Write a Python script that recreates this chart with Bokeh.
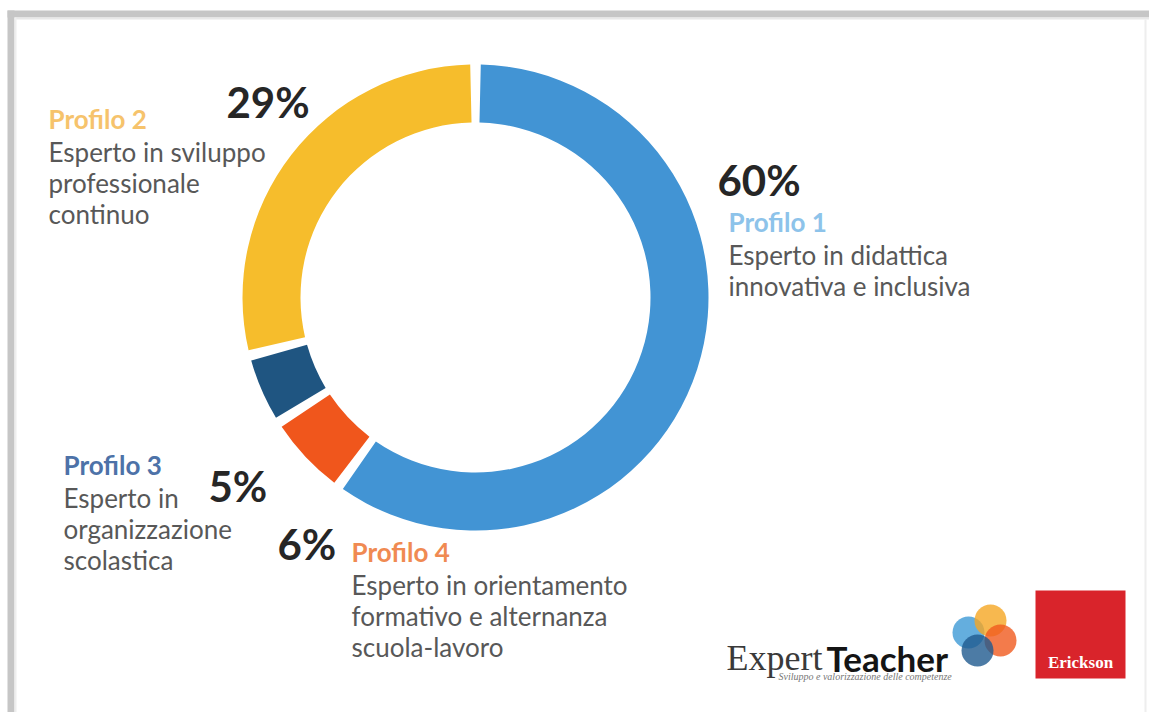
import numpy as np
from bokeh.plotting import figure
from bokeh.models import Range1d, ColumnDataSource
from bokeh.core.properties import value
from bokeh.embed import file_html
from bokeh.resources import INLINE

# ---------------- data ----------------
profiles = ["Profilo 1", "Profilo 4", "Profilo 3", "Profilo 2"]
shares = [60, 6, 5, 29]
share_labels = ["60%", "6%", "5%", "29%"]
colors = ["#4294d4", "#f0561c", "#1f5581", "#f6bd2c"]
head_colors = ["#8dc3ea", "#f08a52", "#4d72a8", "#f6c36c"]
descriptions = [
    ["Esperto in didattica", "innovativa e inclusiva"],
    ["Esperto in orientamento", "formativo e alternanza", "scuola-lavoro"],
    ["Esperto in", "organizzazione", "scolastica"],
    ["Esperto in sviluppo", "professionale", "continuo"],
]

W, H = 1149, 712
PX_H = 712


def Y(py):
    return PX_H - py


p = figure(width=W, height=H, output_backend="svg", toolbar_location=None,
           x_range=Range1d(0, W), y_range=Range1d(PX_H - H, PX_H),
           min_border=0, outline_line_color=None, background_fill_color="white",
           border_fill_color="white")
p.axis.visible = False
p.grid.visible = False

# frame border (grey bars top/left)
p.quad(left=[7], right=[1149], bottom=[Y(17)], top=[Y(10)], fill_color="#c6c6c6", line_color=None)
p.quad(left=[7], right=[14], bottom=[Y(712)], top=[Y(10)], fill_color="#c6c6c6", line_color=None)
p.quad(left=[14], right=[1149], bottom=[Y(19)], top=[Y(17)], fill_color="#e8e8e8", line_color=None)
p.quad(left=[14], right=[16], bottom=[Y(712)], top=[Y(17)], fill_color="#eeeeee", line_color=None)
p.quad(left=[1144], right=[1146], bottom=[Y(712)], top=[Y(19)], fill_color="#eeeeee", line_color=None)

# ---------------- donut ----------------
cx, cy = 475, Y(297)
r_in, r_out = 175, 233
gap = np.deg2rad(1.3)
cum = np.cumsum([0] + shares)
ends_a = np.deg2rad(90 - cum[:-1] * 3.6) - gap
starts_a = np.deg2rad(90 - cum[1:] * 3.6) + gap
src = ColumnDataSource(dict(start=starts_a, end=ends_a, color=colors))
p.annular_wedge(x=cx, y=cy, inner_radius=r_in, outer_radius=r_out,
                start_angle="start", end_angle="end", fill_color="color",
                line_color=None, source=src)

# ---------------- labels ----------------
FONT = value("Lato")
pct_pos = {"Profilo 1": (717, 179), "Profilo 4": (277, 543),
           "Profilo 3": (208, 485), "Profilo 2": (226, 101)}
head_pos = {"Profilo 1": (728, 221), "Profilo 4": (351, 551),
            "Profilo 3": (63, 464), "Profilo 2": (48, 118)}
FIRST, LINE = 33, 31

px, py, pt = [], [], []
hx, hy, ht, hc = [], [], [], []
dx, dy, dt = [], [], []
for i, name in enumerate(profiles):
    a, b = pct_pos[name]
    px.append(a); py.append(Y(b)); pt.append(share_labels[i])
    a, b = head_pos[name]
    hx.append(a); hy.append(Y(b)); ht.append(name); hc.append(head_colors[i])
    for k, line in enumerate(descriptions[i]):
        dx.append(a); dy.append(Y(b + FIRST + k * LINE)); dt.append(line)

p.text(x=px, y=py, text=pt, text_font=FONT, text_font_size="42px",
       text_font_style="bold", text_color="#262626", text_baseline="alphabetic")
p.text(x=hx, y=hy, text=ht, text_font=FONT, text_font_size="26px",
       text_font_style="bold", text_color=hc, text_baseline="alphabetic")
p.text(x=dx, y=dy, text=dt, text_font=FONT, text_font_size="26px",
       text_color="#585858", text_baseline="alphabetic")

# ---------------- logos ----------------
p.text(x=[726], y=[Y(657)], text=["Expert"], text_font=value("Liberation Serif"),
       text_font_size="36px", text_color="#3a3a3a", text_baseline="alphabetic")
p.text(x=[826], y=[Y(657)], text=["Teacher"], text_font=value("Lato"),
       text_font_size="35px", text_font_style="bold", text_color="#141414",
       text_baseline="alphabetic")
p.text(x=[778], y=[Y(676)], text=["Sviluppo e valorizzazione delle competenze"],
       text_font=value("Liberation Serif"), text_font_size="10px",
       text_font_style="italic", text_color="#777777", text_baseline="alphabetic")
logo_x = [968, 990, 1000, 977]
logo_y = [Y(632), Y(620), Y(640), Y(650)]
logo_c = ["#3d9ad6", "#f5a623", "#f05a1e", "#1f5a8f"]
p.circle(x=logo_x, y=logo_y, radius=16, fill_color=logo_c, fill_alpha=0.8, line_color=None)

p.quad(left=[1035], right=[1125], bottom=[Y(678)], top=[Y(590)], fill_color="#d9242b", line_color=None)
p.text(x=[1080], y=[Y(662)], text=["Erickson"], text_font=value("Liberation Serif"),
       text_font_size="17px", text_font_style="bold", text_color="white",
       text_align="center", text_baseline="alphabetic")

open("out.html", "w").write(file_html(p, INLINE))
